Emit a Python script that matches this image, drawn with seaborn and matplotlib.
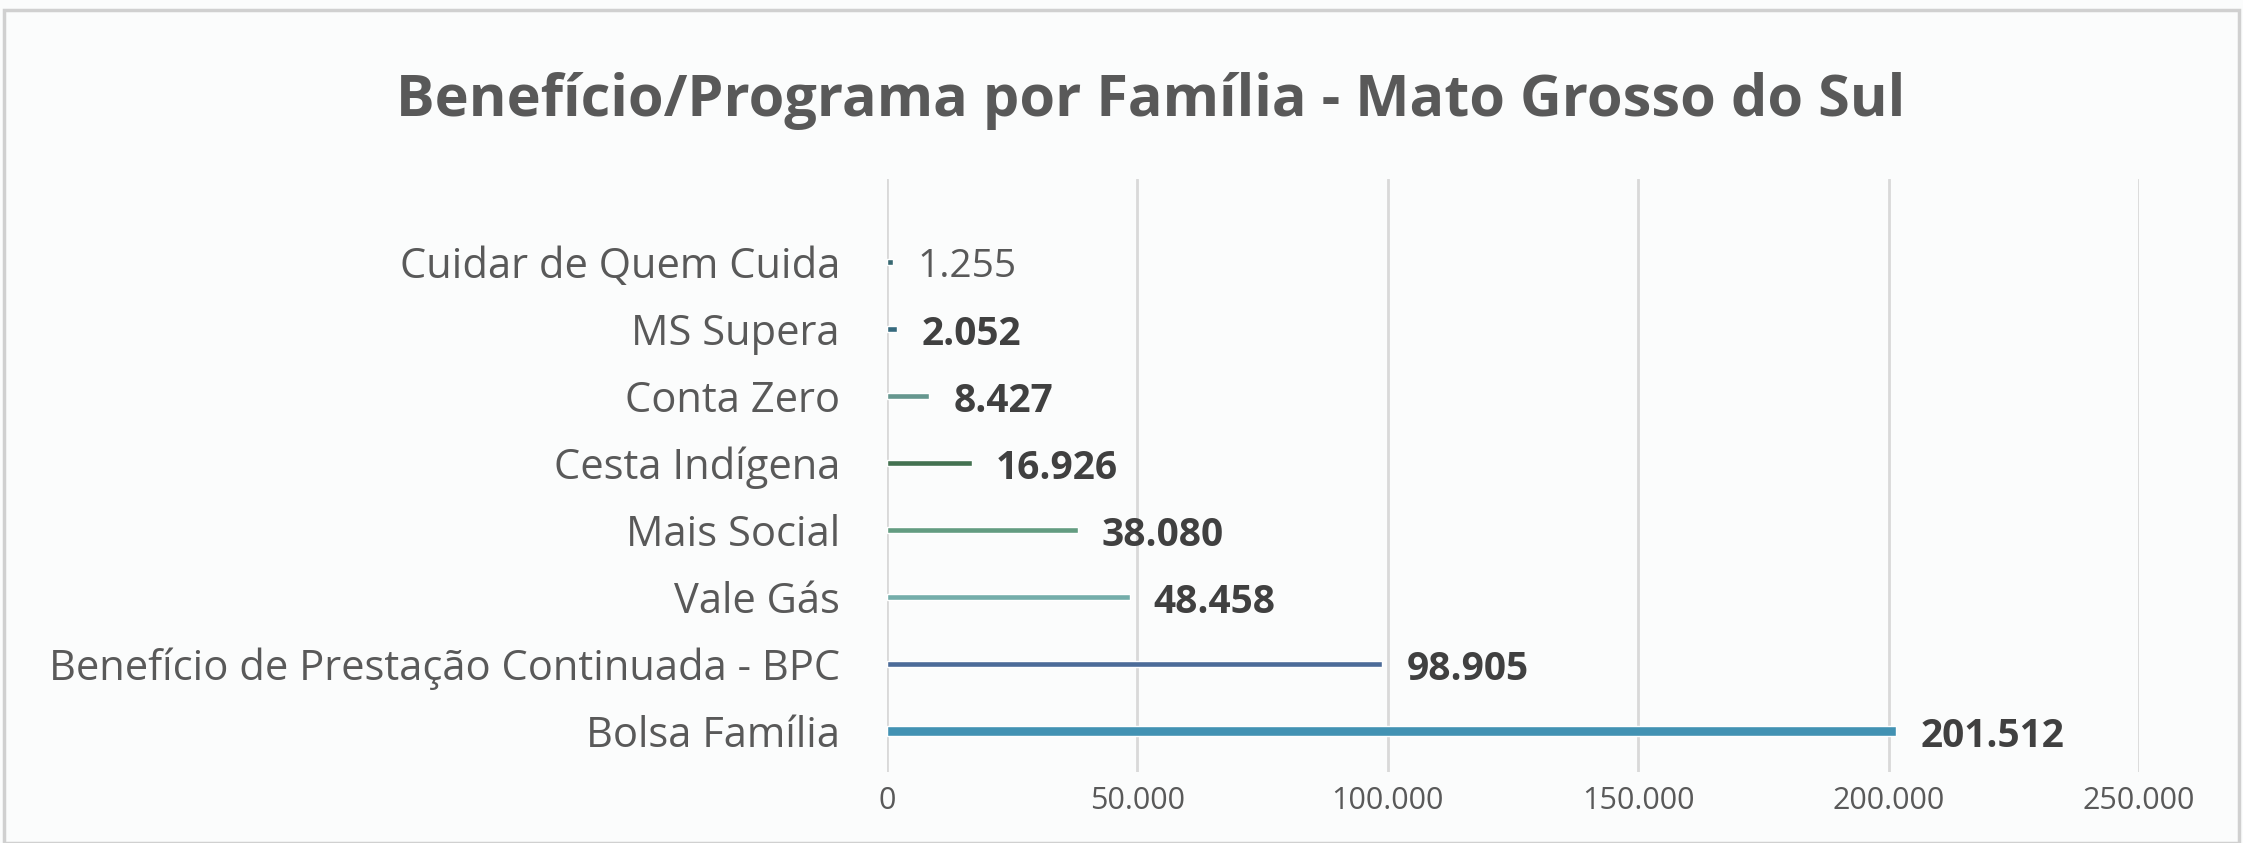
import matplotlib
matplotlib.use("Agg")
import matplotlib.pyplot as plt
import seaborn as sns
import pandas as pd
from matplotlib.patches import Rectangle

categories = ["Cuidar de Quem Cuida", "MS Supera", "Conta Zero", "Cesta Indígena",
              "Mais Social", "Vale Gás", "Benefício de Prestação Continuada - BPC", "Bolsa Família"]
values = [1255, 2052, 8427, 16926, 38080, 48458, 98905, 201512]
value_labels = ["1.255", "2.052", "8.427", "16.926", "38.080", "48.458", "98.905", "201.512"]
bar_colors = ["#2f6f7a", "#2a6f8a", "#5e9f95", "#3c7a4e", "#5aa582", "#6ab7b2", "#3f6aa6", "#2f9ac6"]
xticks = [0, 50000, 100000, 150000, 200000, 250000]
xtick_labels = ["0", "50.000", "100.000", "150.000", "200.000", "250.000"]
title = "Benefício/Programa por Família - Mato Grosso do Sul"

sns.set_theme(style="white")
plt.rcParams['font.family'] = ['Open Sans', 'DejaVu Sans']

df = pd.DataFrame({"cat": categories, "val": values})

fig = plt.figure(figsize=(22.43, 8.43), dpi=100)
fig.patch.set_facecolor("#fbfcfc")
fig.patches.append(Rectangle((0.002, 0.0), 0.996, 0.988, transform=fig.transFigure,
                             fill=False, edgecolor="#d0d0d0", linewidth=2.5))
ax = fig.add_axes([0.3955, 0.0842, 0.5581, 0.7035])
ax.set_facecolor("#fbfcfc")

sns.barplot(data=df, y="cat", x="val", hue="cat", palette=bar_colors, orient="h",
            width=0.09, legend=False, ax=ax, zorder=3)

# Bolsa Família bar is thicker
for p, c in zip(ax.patches, categories):
    if c == "Bolsa Família":
        yc = p.get_y() + p.get_height() / 2
        p.set_height(0.15)
        p.set_y(yc - 0.075)

ax.set_xlim(0, 250000)
ax.set_ylim(7.61, -1.24)
ax.set_xticks(xticks)
ax.set_xticklabels(xtick_labels, fontsize=22, color="#595959")
ax.tick_params(axis="x", pad=10, length=0)
ax.tick_params(axis="y", pad=34, length=0, labelsize=30, labelcolor="#595959")
ax.set_xlabel("")
ax.set_ylabel("")
ax.grid(axis="x", color="#d9d9d9", linewidth=2, zorder=0)
for s in ax.spines.values():
    s.set_visible(False)

for i, (v, lab) in enumerate(zip(values, value_labels)):
    ax.annotate(lab, (v, i), xytext=(24, -5), textcoords="offset pixels",
                ha="left", va="center", fontsize=28,
                fontweight="normal" if i == 0 else "bold",
                color="#595959" if i == 0 else "#404040")

fig.text(0.513, 0.88, title, ha="center", va="center", fontsize=41.5, fontweight="bold", color="#595959")

fig.savefig("out.png", dpi=100, facecolor=fig.get_facecolor())
